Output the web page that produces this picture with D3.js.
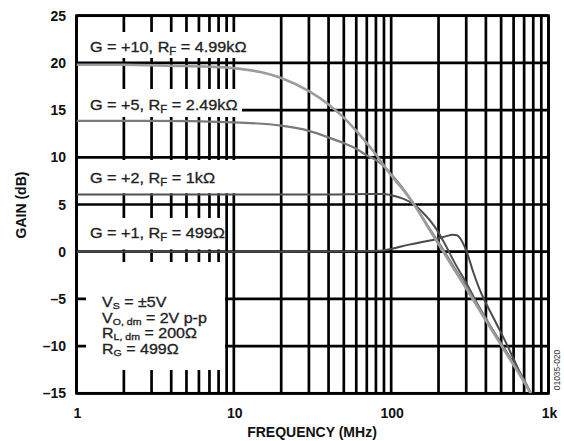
<!DOCTYPE html>
<html><head><meta charset="utf-8">
<script src="https://cdn.jsdelivr.net/npm/d3@7"></script>
<style>
html,body{margin:0;padding:0;background:#fff;}
svg{display:block;}
text{font-family:"Liberation Sans",Arial,Helvetica,sans-serif;}
</style></head><body>
<svg id="c" width="564" height="441"></svg>
<script>
// ---- data ----
const gainTicks=[-15,-10,-5,0,5,10,15,20,25];
const gainTickLabels=["\u201315","\u201310","\u20135","0","5","10","15","20","25"];
const freqTicks=[1,10,100,1000];
const freqTickLabels=["1","10","100","1k"];

const gain10=[[1,19.8],[2,19.8],[4,19.7],[7,19.6],[10,19.45],[15,19.0],[20,18.4],[30,17.0],[40,15.6],[50,14.2],[60,12.8],[70,11.5],[80,10.3],[90,9.1],[100,8.1],[120,6.5],[140,5.0],[170,2.7],[200,0.8],[250,-1.8],[300,-3.9],[400,-7.3],[500,-9.9],[600,-12.0],[700,-13.8],[770,-15]];
const gain5=[[1,13.85],[3,13.85],[10,13.7],[20,13.35],[30,12.8],[40,12.1],[50,11.5],[60,10.9],[70,10.2],[80,9.7],[90,9.05],[100,8.2],[120,6.6],[140,5.0],[170,2.8],[200,1.0],[250,-1.6],[300,-3.7],[400,-7.1],[500,-9.8],[600,-11.9],[700,-13.7],[775,-15]];
const gain2=[[1,6.05],[10,6.05],[40,6.05],[70,6.1],[90,6.1],[105,5.9],[120,5.6],[140,5.0],[160,4.1],[190,2.6],[220,0.8],[250,-1.0],[300,-3.3],[340,-5.0],[400,-7.1],[500,-9.7],[600,-11.8],[700,-13.6],[770,-15]];
const gain1=[[1,0],[20,0],[50,0.03],[85,0.1],[100,0.3],[130,0.75],[160,1.05],[195,1.35],[225,1.65],[245,1.8],[262,1.75],[275,1.4],[290,0.7],[302,0],[333,-2.2],[367,-4.1],[450,-7.1],[550,-10.0],[650,-12.6],[770,-15]];

const seriesLabels=[
  {g:"+10", rf:"4.99k\u03A9"},
  {g:"+5", rf:"2.49k\u03A9"},
  {g:"+2", rf:"1k\u03A9"},
  {g:"+1", rf:"499\u03A9"}
];
const condLines=[["V","S"," = \u00B15V"],["V","O, dm"," = 2V p-p"],["R","L, dm"," = 200\u03A9"],["R","G"," = 499\u03A9"]];

// ---- layout ----
const L=76.5, R=548.5, T=15.7, B=393.3;
const svg=d3.select("#c");
const x=d3.scaleLog().domain([1,1000]).range([L,R]);
const y=d3.scaleLinear().domain([-15,25]).range([B,T]);
const gridW=2.7;

// grid
const grid=svg.append("g");
grid.selectAll("line.v").data(x.ticks()).join("line")
  .attr("x1",d=>x(d)).attr("x2",d=>x(d)).attr("y1",T).attr("y2",B)
  .attr("stroke","#000").attr("stroke-width",gridW);
grid.selectAll("line.h").data(gainTicks).join("line")
  .attr("x1",L).attr("x2",R).attr("y1",d=>y(d)).attr("y2",d=>y(d))
  .attr("stroke","#000").attr("stroke-width",gridW);

// white masks behind labels
const masks=[[77.8,32,250,58],[77.8,89,242,117],[77.8,160,238,193.3],[77.8,218,224,249.5],[86,262,225,370]];
svg.append("g").selectAll("rect").data(masks).join("rect")
  .attr("x",d=>d[0]).attr("y",d=>d[1]).attr("width",d=>d[2]-d[0]).attr("height",d=>d[3]-d[1])
  .attr("fill","#fff");

// frame
svg.append("rect").attr("x",L).attr("y",T).attr("width",R-L).attr("height",B-T)
  .attr("fill","none").attr("stroke","#000").attr("stroke-width",gridW);

// curves
svg.append("clipPath").attr("id","clip").append("rect").attr("x",L).attr("y",T).attr("width",R-L).attr("height",B-T);
const line=d3.line().x(d=>x(d[0])).y(d=>y(d[1])).curve(d3.curveMonotoneX);
const curves=[
  {d:gain1,c:"#4a4a4a",w:2},
  {d:gain2,c:"#505050",w:2},
  {d:gain5,c:"#7a7a7a",w:2.2},
  {d:gain10,c:"#9c9c9c",w:2.6}
];
svg.append("g").attr("clip-path","url(#clip)").selectAll("path").data(curves).join("path")
  .attr("d",d=>line(d.d)).attr("fill","none").attr("stroke",d=>d.c).attr("stroke-width",d=>d.w)
  .attr("stroke-linejoin","round");

// tick labels
svg.append("g").selectAll("text").data(gainTicks).join("text")
  .attr("x",66).attr("y",d=>y(d)).attr("dy","0.36em").attr("text-anchor","end")
  .attr("font-size",14).attr("font-weight","bold").attr("fill","#111")
  .text((d,i)=>gainTickLabels[i]);
svg.append("g").selectAll("text").data(freqTicks).join("text")
  .attr("x",d=>x(d)+1).attr("y",418).attr("text-anchor","middle")
  .attr("font-size",14).attr("font-weight","bold").attr("fill","#111")
  .text((d,i)=>freqTickLabels[i]);

// axis titles
svg.append("text").attr("x",312).attr("y",437).attr("text-anchor","middle")
  .attr("font-size",14).attr("font-weight","bold").attr("fill","#111").text("FREQUENCY (MHz)");
svg.append("text").attr("transform","translate(26,205) rotate(-90)").attr("text-anchor","middle")
  .attr("font-size",14).attr("font-weight","bold").attr("fill","#111").text("GAIN (dB)");

// series labels
const labelPos=[[90,52],[90,110],[90,183],[90,238]];
const fs=14.5, sx=1.12;
seriesLabels.forEach((s,i)=>{
  const t=svg.append("text").attr("transform",`translate(${labelPos[i][0]},${labelPos[i][1]}) scale(${sx},1)`)
    .attr("font-size",fs).attr("fill","#222").attr("stroke","#222").attr("stroke-width",0.3);
  t.append("tspan").text(`G = ${s.g}, R`);
  t.append("tspan").attr("font-size",fs*0.7).attr("dy",3).text("F");
  t.append("tspan").attr("dy",-3).text(` = ${s.rf}`);
});
const condBase=[306.5,322.5,338,353.5];
const cfs=13.8;
condLines.forEach((c,i)=>{
  const t=svg.append("text").attr("transform",`translate(102,${condBase[i]}) scale(1.16,1)`)
    .attr("font-size",cfs).attr("fill","#222").attr("stroke","#222").attr("stroke-width",0.3);
  t.append("tspan").text(c[0]);
  t.append("tspan").attr("font-size",cfs*0.66).attr("dy",2).text(c[1]);
  t.append("tspan").attr("dy",-2).text(c[2]);
});

// figure code
svg.append("text").attr("transform","translate(560,370) rotate(-90)").attr("text-anchor","middle")
  .attr("font-size",8.5).attr("fill","#333").text("01035-020");
</script>
</body></html>
